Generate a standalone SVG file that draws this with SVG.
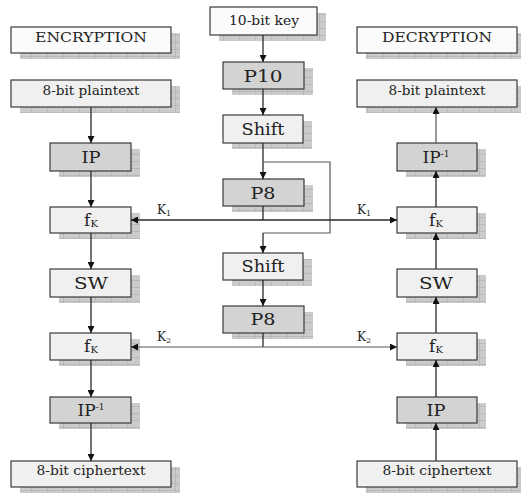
<svg xmlns="http://www.w3.org/2000/svg" width="521" height="496" viewBox="0 0 521 496">
<style>
.sh{fill:url(#grid)}
.w{fill:#fbfbfb;stroke:#3a3a3a;stroke-width:1.2}
.l{fill:#f0f0f0;stroke:#3a3a3a;stroke-width:1.2}
.d{fill:#d3d3d3;stroke:#3a3a3a;stroke-width:1.2}
text{font-family:"DejaVu Serif","Liberation Serif",serif;fill:#222;text-anchor:middle}
.s{font-size:13px}
.b{font-size:17px}
.k{font-size:12px}
.c{fill:none;stroke:#2a2a2a;stroke-width:1.3}
.g{fill:none;stroke:#555;stroke-width:1.2}
</style>
<defs>
<pattern id="grid" width="16" height="7" patternUnits="userSpaceOnUse">
<rect width="16" height="7" fill="#cbcbcb"/>
<path d="M0 0.5H16M15.5 0V7" stroke="#b9b9b9" stroke-width="1"/>
</pattern>
<marker id="a" viewBox="0 0 10 10" refX="10" refY="5" markerWidth="7" markerHeight="7" orient="auto" markerUnits="userSpaceOnUse">
<path d="M0 0L10 5L0 10Z" fill="#111"/>
</marker>
</defs>

<g id="encryption"><rect class="sh" x="20" y="33" width="160" height="26"/><rect class="w" x="11" y="27" width="160" height="26"/><text class="s" x="91" y="42" textLength="112" lengthAdjust="spacingAndGlyphs">ENCRYPTION</text></g>
<g id="decryption"><rect class="sh" x="366" y="33" width="160" height="26"/><rect class="w" x="357" y="27" width="160" height="26"/><text class="s" x="437" y="42" textLength="110" lengthAdjust="spacingAndGlyphs">DECRYPTION</text></g>
<g id="key"><rect class="sh" x="219" y="13" width="107" height="28"/><rect class="w" x="210" y="7" width="107" height="28"/><text class="s" x="264" y="25" textLength="70" lengthAdjust="spacingAndGlyphs">10-bit key</text></g>
<g id="p10"><rect class="sh" x="232" y="68" width="81" height="27"/><rect class="d" x="223" y="62" width="81" height="27"/><text class="b" x="263" y="82" textLength="39" lengthAdjust="spacingAndGlyphs">P10</text></g>
<g id="shift1"><rect class="sh" x="232" y="121" width="80" height="28"/><rect class="l" x="223" y="115" width="80" height="28"/><text class="b" x="263" y="135" textLength="43" lengthAdjust="spacingAndGlyphs">Shift</text></g>
<g id="p8a"><rect class="sh" x="232" y="185" width="81" height="27"/><rect class="d" x="223" y="179" width="81" height="27"/><text class="b" x="263" y="199" textLength="25" lengthAdjust="spacingAndGlyphs">P8</text></g>
<g id="shift2"><rect class="sh" x="232" y="259" width="80" height="27"/><rect class="l" x="223" y="253" width="80" height="27"/><text class="b" x="263" y="272" textLength="43" lengthAdjust="spacingAndGlyphs">Shift</text></g>
<g id="p8b"><rect class="sh" x="232" y="312" width="81" height="27"/><rect class="d" x="223" y="306" width="81" height="27"/><text class="b" x="263" y="325" textLength="25" lengthAdjust="spacingAndGlyphs">P8</text></g>

<g id="enc-plain"><rect class="sh" x="20" y="86" width="160" height="27"/><rect class="l" x="11" y="80" width="160" height="27"/><text class="s" x="91" y="95" textLength="97" lengthAdjust="spacingAndGlyphs">8-bit plaintext</text></g>
<g id="enc-ip"><rect class="sh" x="59" y="149" width="81" height="28"/><rect class="d" x="50" y="143" width="81" height="28"/><text class="b" x="91" y="163" textLength="19" lengthAdjust="spacingAndGlyphs">IP</text></g>
<g id="enc-fk1"><rect class="sh" x="59" y="213" width="81" height="26"/><rect class="l" x="50" y="207" width="81" height="26"/><text class="b" x="91" y="226">f<tspan font-size="10" dy="1">K</tspan></text></g>
<g id="enc-sw"><rect class="sh" x="59" y="275" width="81" height="28"/><rect class="l" x="50" y="269" width="81" height="28"/><text class="b" x="91" y="289" textLength="34" lengthAdjust="spacingAndGlyphs">SW</text></g>
<g id="enc-fk2"><rect class="sh" x="59" y="339" width="81" height="27"/><rect class="l" x="50" y="333" width="81" height="27"/><text class="b" x="91" y="352">f<tspan font-size="10" dy="1">K</tspan></text></g>
<g id="enc-ipinv"><rect class="sh" x="59" y="403" width="81" height="26"/><rect class="d" x="50" y="397" width="81" height="26"/><text class="b" x="91" y="416">IP<tspan font-size="9" dy="-6">-1</tspan></text></g>
<g id="enc-cipher"><rect class="sh" x="20" y="467" width="160" height="26"/><rect class="l" x="11" y="461" width="160" height="26"/><text class="s" x="91" y="475" textLength="109" lengthAdjust="spacingAndGlyphs">8-bit ciphertext</text></g>

<g id="dec-plain"><rect class="sh" x="366" y="86" width="160" height="27"/><rect class="l" x="357" y="80" width="160" height="27"/><text class="s" x="437" y="95" textLength="97" lengthAdjust="spacingAndGlyphs">8-bit plaintext</text></g>
<g id="dec-ipinv"><rect class="sh" x="406" y="149" width="80" height="28"/><rect class="d" x="397" y="143" width="80" height="28"/><text class="b" x="436" y="163">IP<tspan font-size="9" dy="-6">-1</tspan></text></g>
<g id="dec-fk1"><rect class="sh" x="406" y="213" width="80" height="26"/><rect class="l" x="397" y="207" width="80" height="26"/><text class="b" x="436" y="226">f<tspan font-size="10" dy="1">K</tspan></text></g>
<g id="dec-sw"><rect class="sh" x="406" y="275" width="80" height="28"/><rect class="l" x="397" y="269" width="80" height="28"/><text class="b" x="436" y="289" textLength="34" lengthAdjust="spacingAndGlyphs">SW</text></g>
<g id="dec-fk2"><rect class="sh" x="406" y="339" width="80" height="27"/><rect class="l" x="397" y="333" width="80" height="27"/><text class="b" x="436" y="352">f<tspan font-size="10" dy="1">K</tspan></text></g>
<g id="dec-ip"><rect class="sh" x="406" y="403" width="80" height="26"/><rect class="d" x="397" y="397" width="80" height="26"/><text class="b" x="436" y="416" textLength="19" lengthAdjust="spacingAndGlyphs">IP</text></g>
<g id="dec-cipher"><rect class="sh" x="366" y="467" width="160" height="26"/><rect class="l" x="357" y="461" width="160" height="26"/><text class="s" x="437" y="475" textLength="109" lengthAdjust="spacingAndGlyphs">8-bit ciphertext</text></g>

<g id="connectors">
<line class="c" x1="263" y1="35" x2="263" y2="62" marker-end="url(#a)"/>
<line class="c" x1="263" y1="89" x2="263" y2="115" marker-end="url(#a)"/>
<line class="c" x1="263" y1="143" x2="263" y2="179" marker-end="url(#a)"/>
<polyline class="g" points="263,162 330,162 330,233 263,233"/>
<line class="c" x1="263" y1="233" x2="263" y2="253" marker-end="url(#a)"/>
<line class="c" x1="263" y1="206" x2="263" y2="220"/>
<line class="c" x1="263" y1="220" x2="131" y2="220" marker-end="url(#a)"/>
<line class="c" x1="263" y1="220" x2="397" y2="220" marker-end="url(#a)"/>
<line class="c" x1="263" y1="280" x2="263" y2="306" marker-end="url(#a)"/>
<line class="c" x1="263" y1="333" x2="263" y2="347"/>
<line class="g" x1="263" y1="347" x2="131" y2="347" marker-end="url(#a)"/>
<line class="g" x1="263" y1="347" x2="397" y2="347" marker-end="url(#a)"/>
<line class="c" x1="91" y1="107" x2="91" y2="143" marker-end="url(#a)"/>
<line class="c" x1="91" y1="171" x2="91" y2="207" marker-end="url(#a)"/>
<line class="c" x1="91" y1="233" x2="91" y2="269" marker-end="url(#a)"/>
<line class="c" x1="91" y1="297" x2="91" y2="333" marker-end="url(#a)"/>
<line class="c" x1="91" y1="360" x2="91" y2="397" marker-end="url(#a)"/>
<line class="c" x1="91" y1="423" x2="91" y2="461" marker-end="url(#a)"/>
<line class="c" x1="436" y1="461" x2="436" y2="423" marker-end="url(#a)"/>
<line class="c" x1="436" y1="397" x2="436" y2="360" marker-end="url(#a)"/>
<line class="c" x1="436" y1="333" x2="436" y2="297" marker-end="url(#a)"/>
<line class="c" x1="436" y1="269" x2="436" y2="233" marker-end="url(#a)"/>
<line class="c" x1="436" y1="207" x2="436" y2="171" marker-end="url(#a)"/>
<line class="g" x1="436" y1="143" x2="436" y2="107" marker-end="url(#a)"/>
<text class="k" x="164" y="214">K<tspan font-size="8" dy="2">1</tspan></text>
<text class="k" x="364" y="214">K<tspan font-size="8" dy="2">1</tspan></text>
<text class="k" x="164" y="341">K<tspan font-size="8" dy="2">2</tspan></text>
<text class="k" x="364" y="341">K<tspan font-size="8" dy="2">2</tspan></text>
</g>
</svg>
